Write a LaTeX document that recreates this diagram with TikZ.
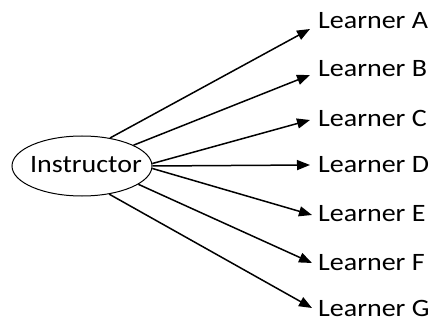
\documentclass[tikz,border=0pt]{standalone}
\usepackage{fontspec}
\setmainfont[FakeStretch=1.12]{Carlito}
\usetikzlibrary{shapes.geometric,arrows.meta}
\tikzset{
  learner/.style={anchor=base west, inner sep=0pt, font=\fontsize{25}{28}\selectfont},
  link/.style={line width=1.5pt, -{Triangle[length=13pt,width=10pt]}},
}
\begin{document}
\begin{tikzpicture}[x=1pt,y=-1pt]
\useasboundingbox (0,0) rectangle (430,320);
\node[ellipse, draw, line width=1pt, minimum width=140pt, minimum height=60pt, inner sep=0pt] (ins) at (82,166) {};
\node[inner sep=0pt, font=\fontsize{25}{28}\selectfont] (instext) at (86,165) {Instructor};
\node[learner] (LA) at (318,29) {Learner A};
\node[learner] (LB) at (318,77) {Learner B};
\node[learner] (LC) at (318,127) {Learner C};
\node[learner] (LD) at (318,173) {Learner D};
\node[learner] (LE) at (318,221) {Learner E};
\node[learner] (LF) at (318,270) {Learner F};
\node[learner] (LG) at (318,316) {Learner G};
\draw[link] (ins.45) -- ([xshift=-8pt,yshift=0pt]LA.base west);
\draw[link] (ins.22) -- ([xshift=-8pt,yshift=2pt]LB.base west);
\draw[link] (ins.2) -- ([xshift=-8pt,yshift=7pt]LC.base west);
\draw[link] (ins.0) -- ([xshift=-8pt,yshift=8pt]LD.base west);
\draw[link] (ins.-2) -- ([xshift=-6pt,yshift=6pt]LE.base west);
\draw[link] (ins.-18) -- ([xshift=-6pt,yshift=7pt]LF.base west);
\draw[link] (ins.-46) -- ([xshift=-6pt,yshift=8pt]LG.base west);
\end{tikzpicture}
\end{document}
